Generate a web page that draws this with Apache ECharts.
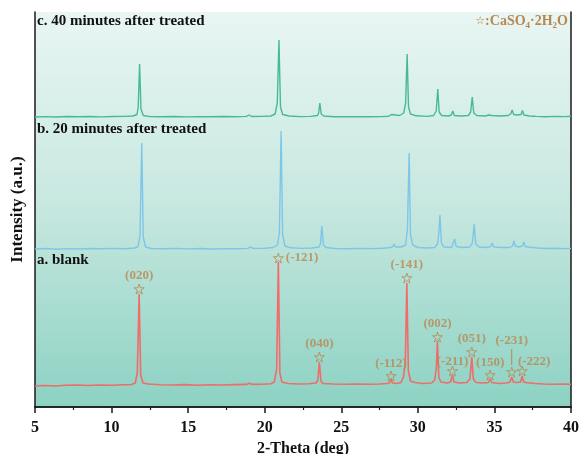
<!DOCTYPE html>
<html>
<head>
<meta charset="utf-8">
<script src="https://cdn.jsdelivr.net/npm/echarts@6/dist/echarts.min.js"></script>
<style>
html, body { margin: 0; padding: 0; background: #fff; }
#main { width: 580px; height: 454px; }
</style>
</head>
<body>
<div id="main"></div>
<script>
// XRD patterns, intensity above each pattern's own baseline (a.u.)
var blank = [
[5.0,-1],[5.6,-0.5],[6.3,-1],[7.0,-0.3],[7.8,0],[8.5,-0.5],[9.2,0],[10.0,-0.2],[10.8,0.3],[11.3,0.5],
[11.55,2],[11.68,12],[11.8,91],[11.9,10],[12.05,2],[12.4,1],[13.2,0.3],[14.0,0],[14.8,0.4],[15.6,-0.2],
[16.4,0.3],[17.2,0],[18.0,0.4],[18.8,0.6],[19.0,1.8],[19.2,0.6],[19.8,0.8],[20.4,1.2],[20.62,3],[20.78,16],
[20.89,123],[20.99,12],[21.12,3],[21.5,1.5],[22.2,1],[22.9,1.2],[23.35,2],[23.47,5],[23.57,23],[23.67,4],
[23.8,1.5],[24.5,1],[25.3,0.8],[26.0,1],[26.8,0.8],[27.5,1],[28.0,1.5],[28.17,2.5],[28.25,6],[28.34,2],
[28.6,1.5],[28.9,2.5],[29.06,8],[29.18,22],[29.28,102],[29.38,14],[29.52,4],[29.8,2.5],[30.3,1.5],[30.9,2],
[31.1,5],[31.2,16],[31.28,44],[31.37,8],[31.5,3],[31.9,2],[32.14,3],[32.26,10],[32.36,3],[32.7,2],
[33.2,2.5],[33.4,6],[33.52,28],[33.62,6],[33.8,2.5],[34.3,2],[34.6,2.5],[34.72,6],[34.83,2.5],[35.3,1.5],
[35.8,2],[36.02,3],[36.13,8],[36.23,3],[36.45,2.5],[36.71,3],[36.81,9],[36.91,3],[37.2,2],[37.45,2],
[37.55,3.5],[37.65,1.5],[38.2,1],[38.8,0.8],[39.4,1],[40.0,0.8]
];
var min20 = [
[5.0,0],[5.7,0.5],[6.4,-0.3],[7.1,0.4],[7.9,0],[8.6,0.5],[9.3,0.2],[10.1,0.6],[10.9,0.3],[11.5,1],
[11.73,2.5],[11.86,14],[11.97,106],[12.07,12],[12.22,2],[12.6,0.5],[13.4,0.2],[14.2,0.6],[15.0,0.1],[15.8,0.5],
[16.6,0],[17.4,0.4],[18.2,0.3],[18.9,0.6],[19.05,2],[19.25,0.6],[20.0,0.8],[20.55,1.5],[20.83,4],[20.96,16],
[21.07,118],[21.17,14],[21.32,3],[21.7,1.2],[22.4,0.6],[23.1,1],[23.55,2],[23.64,5],[23.73,23],[23.83,4],
[24.0,1.5],[24.6,0.5],[25.4,0.3],[26.2,0.6],[27.0,0.4],[27.7,0.8],[28.2,1.5],[28.37,2.5],[28.45,5],[28.54,2],
[28.9,2],[29.2,4],[29.32,20],[29.43,96],[29.52,14],[29.67,4],[30.0,1.5],[30.6,1],[31.1,1.5],[31.28,5],
[31.36,14],[31.44,34],[31.54,6],[31.7,2],[32.2,1.5],[32.31,3],[32.4,10],[32.5,2.5],[32.9,1.5],[33.4,2],
[33.56,6],[33.68,25],[33.78,5],[34.0,2],[34.5,1.5],[34.76,2.5],[34.85,6],[34.96,2],[35.5,1.5],[36.0,1.5],
[36.18,3],[36.27,8],[36.37,3],[36.6,2],[36.82,3],[36.92,7],[37.02,2.5],[37.4,1.5],[37.62,1.5],[37.7,3],
[37.79,1],[38.4,0.5],[39.0,0.8],[39.6,0.4],[40.0,0.6]
];
var min40 = [
[5.0,0],[5.7,0.4],[6.4,0],[7.1,0.5],[7.9,0.2],[8.6,0.5],[9.3,0.1],[10.1,0.5],[10.9,0.6],[11.4,1],
[11.66,2.5],[11.74,10],[11.83,53],[11.92,8],[12.07,1.5],[12.5,0.4],[13.3,0.2],[14.1,0.5],[14.9,0.1],[15.7,0.4],
[16.5,0.2],[17.3,0.5],[18.1,0.3],[18.8,0.6],[18.98,2],[19.15,0.5],[19.8,0.6],[20.4,1],[20.68,3],[20.82,14],
[20.93,77],[21.03,10],[21.17,2.5],[21.6,1],[22.3,0.4],[23.0,0.6],[23.45,1.5],[23.52,4],[23.6,14],[23.69,3],
[23.85,1],[24.5,0.3],[25.3,0.2],[26.1,0.4],[26.9,0.2],[27.6,0.4],[28.1,0.8],[28.22,1.5],[28.28,2.5],[28.36,1],
[28.8,1.5],[29.08,4],[29.2,14],[29.3,63],[29.39,10],[29.52,3],[29.9,1.2],[30.6,0.6],[31.03,1.5],[31.2,6],
[31.3,28],[31.39,5],[31.55,1.5],[32.0,1],[32.18,2],[32.28,6],[32.38,1.5],[32.8,1],[33.3,1.5],[33.45,5],
[33.55,20],[33.65,4],[33.85,1.5],[34.4,1],[34.63,2],[34.73,4],[34.84,1.5],[35.4,1],[35.9,1.5],[36.06,3],
[36.16,7],[36.26,2.5],[36.5,2],[36.74,2.5],[36.83,6.5],[36.92,2],[37.3,1],[37.55,0.8],[37.64,1.5],[37.73,0.6],
[38.3,0.3],[39.0,0.6],[39.6,0.4],[40.0,0.8]
];
// vertical offsets of the stacked patterns
var offsets = [22, 158, 290];

// CaSO4·2H2O reflections marked on the blank pattern
var peakNames = ['(020)','(-121)','(040)','(-112)','(-141)','(002)','(-211)','(051)','(150)','(-231)','(-222)'];
var peakX     = [11.8, 20.89, 23.57, 28.25, 29.28, 31.28, 32.26, 33.52, 34.72, 36.13, 36.81];
var peakY     = [118, 149, 50, 31, 129, 70, 36, 55, 32, 35, 36];

var xTicks = [5, 10, 15, 20, 25, 30, 35, 40];

var gold = '#b8874f';
var serif = '"Liberation Serif", "Times New Roman", serif';

function shift(arr, off) {
  return arr.map(function (p) { return [p[0], p[1] + off]; });
}

var labelTweaks = {
  '(-121)': { position: 'right', distance: 2 },
  '(-231)': { position: 'top', distance: 19 },
  '(-222)': { position: 'top', distance: 0, offset: [12, 3] },
  '(-211)': { position: 'top', distance: 0, offset: [0, 3] },
  '(-112)': { position: 'top', distance: 0 },
  '(150)': { position: 'top', distance: 0 }
};

var starData = peakNames.map(function (n, i) {
  var t = labelTweaks[n] || { position: 'top', distance: 1 };
  return {
    value: [peakX[i], peakY[i]],
    name: n,
    label: { position: t.position, distance: t.distance, offset: t.offset || [0, 0] }
  };
});

var chart = echarts.init(document.getElementById('main'));

var axisLineStyle = { color: '#1a1a1a', width: 1.5 };

var option = {
  animation: false,
  backgroundColor: '#fff',
  grid: {
    left: 35, right: 9, top: 12, bottom: 47,
    outerBoundsMode: 'none',
    containLabel: false,
    show: true,
    borderWidth: 0,
    backgroundColor: new echarts.graphic.LinearGradient(0, 0, 0, 1, [
      { offset: 0, color: '#e9f6f3' },
      { offset: 0.5, color: '#c6e7df' },
      { offset: 1, color: '#8cd2c3' }
    ])
  },
  xAxis: [{
    type: 'value', min: 5, max: 40, interval: 5,
    name: '2-Theta (deg)', nameLocation: 'middle', nameGap: 34, nameMoveOverlap: false,
    nameTextStyle: { fontFamily: serif, fontWeight: 'bold', fontSize: 16, color: '#111' },
    axisLine: { show: true, lineStyle: axisLineStyle },
    axisTick: { show: true, length: 6, lineStyle: { color: '#1a1a1a', width: 1.5 } },
    minorTick: { show: true, splitNumber: 2, length: 3, lineStyle: { color: '#1a1a1a', width: 1.2 } },
    splitLine: { show: false },
    axisLabel: {
      margin: 13, fontFamily: serif, fontWeight: 'bold', fontSize: 16, color: '#111',
      formatter: function (v) { return xTicks.indexOf(v) >= 0 ? String(v) : ''; }
    }
  }, {
    type: 'value', min: 5, max: 40, position: 'top',
    axisLine: { show: true, lineStyle: axisLineStyle },
    axisTick: { show: false }, axisLabel: { show: false }, splitLine: { show: false }
  }],
  yAxis: [{
    type: 'value', min: 0, max: 395,
    name: 'Intensity (a.u.)', nameLocation: 'middle', nameGap: 9, nameMoveOverlap: false,
    nameTextStyle: { fontFamily: serif, fontWeight: 'bold', fontSize: 17, color: '#111' },
    axisLine: { show: true, lineStyle: axisLineStyle },
    axisTick: { show: false }, axisLabel: { show: false }, splitLine: { show: false }
  }, {
    type: 'value', min: 0, max: 395, position: 'right',
    axisLine: { show: true, lineStyle: axisLineStyle },
    axisTick: { show: false }, axisLabel: { show: false }, splitLine: { show: false }
  }],
  graphic: [
    { type: 'text', left: 37, top: 14, style: { text: 'c. 40 minutes after treated', font: 'bold 15px ' + serif, fill: '#111' } },
    { type: 'text', left: 37, top: 122, style: { text: 'b. 20 minutes after treated', font: 'bold 15px ' + serif, fill: '#111' } },
    { type: 'text', left: 37, top: 253, style: { text: 'a. blank', font: 'bold 15px ' + serif, fill: '#111' } },
    {
      type: 'text', right: 12, top: 14,
      style: {
        text: '{s|☆}{n|:CaSO}{sb|4}{n|·2H}{sb|2}{n|O}',
        rich: {
          s: { fontSize: 11, fill: gold, fontFamily: '"DejaVu Sans"' },
          n: { fontSize: 14, fill: gold, fontWeight: 'bold', fontFamily: serif, lineHeight: 18 },
          sb: { fontSize: 9, fill: gold, fontWeight: 'bold', fontFamily: serif, lineHeight: 18, verticalAlign: 'bottom', padding: [6, 0, 0, 0] }
        }
      }
    }
  ],
  series: [{
    type: 'line', data: shift(blank, offsets[0]), showSymbol: false, symbol: 'none',
    lineStyle: { color: '#f06c69', width: 1.6 }, z: 3
  }, {
    type: 'line', data: shift(min20, offsets[1]), showSymbol: false, symbol: 'none',
    lineStyle: { color: '#7ec6e8', width: 1.4 }, z: 3
  }, {
    type: 'line', data: shift(min40, offsets[2]), showSymbol: false, symbol: 'none',
    lineStyle: { color: '#47b99b', width: 1.4 }, z: 3
  }, {
    // leader line for (-231)
    type: 'line', data: [[peakX[9], peakY[9] + 7], [peakX[9], peakY[9] + 23]],
    showSymbol: false, symbol: 'none', lineStyle: { color: gold, width: 1 }, z: 4
  }, {
    type: 'scatter',
    data: starData,
    symbol: 'path://M50,3 L61,37 L97,37 L68,58 L79,93 L50,71 L21,93 L32,58 L3,37 L39,37 Z',
    symbolSize: 10,
    itemStyle: { color: 'rgba(0,0,0,0)', borderColor: gold, borderWidth: 1 },
    label: {
      show: true,
      formatter: function (p) { return p.name; },
      fontFamily: serif, fontWeight: 'bold', fontSize: 13, color: gold
    },
    z: 5
  }]
};

chart.setOption(option);
</script>
</body>
</html>
